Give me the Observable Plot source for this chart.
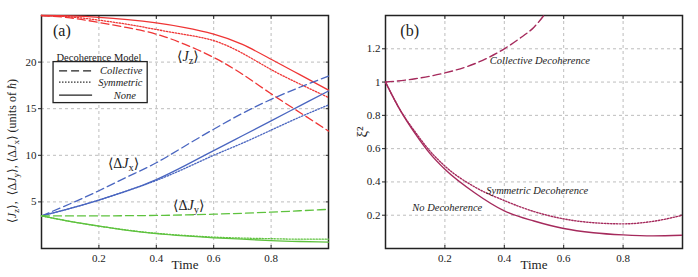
<!DOCTYPE html>
<html>
<head>
<meta charset="utf-8">
<script src="https://cdn.jsdelivr.net/npm/d3@7"></script>
<script src="https://cdn.jsdelivr.net/npm/@observablehq/plot@0.6"></script>
<style>
  html, body { margin: 0; padding: 0; background: #fff; }
  #wrap { display: flex; width: 698px; height: 277px; }
  svg, svg text { font-family: "Liberation Serif", "DejaVu Serif", serif !important; }
</style>
</head>
<body>
<div id="wrap"></div>
<script>
// ---------- Panel (a) data ----------
const timeA = [0, 0.1, 0.2, 0.3, 0.4, 0.5, 0.6, 0.7, 0.8, 0.9, 1.0];
const jzNone = [25, 24.95, 24.8, 24.55, 24.2, 23.7, 23.0, 21.9, 20.3, 18.65, 17.0];
const jzSym  = [25, 24.85, 24.5, 24.05, 23.5, 22.95, 22.3, 20.95, 19.2, 17.65, 16.2];
const jzColl = [25, 24.75, 24.25, 23.7, 23.0, 21.9, 20.5, 18.7, 16.6, 14.6, 12.6];
const dJxNone = [3.5, 4.3, 5.2, 6.2, 7.4, 8.9, 10.5, 12.1, 13.7, 15.3, 16.9];
const dJxSym  = [3.5, 4.3, 5.2, 6.2, 7.3, 8.6, 10.0, 11.3, 12.7, 14.1, 15.4];
const dJxColl = [3.5, 4.8, 6.2, 7.7, 9.2, 11.0, 12.8, 14.5, 16.0, 17.3, 18.5];
const dJyNone = [3.5, 2.9, 2.4, 1.95, 1.6, 1.35, 1.15, 1.0, 0.85, 0.75, 0.68];
const dJySym  = [3.5, 2.9, 2.4, 1.97, 1.63, 1.4, 1.22, 1.12, 1.05, 1.0, 1.0];
const dJyColl = [3.5, 3.5, 3.5, 3.52, 3.55, 3.6, 3.68, 3.78, 3.9, 4.05, 4.2];
const ticksXA = [0.2, 0.4, 0.6, 0.8];
const ticksYA = [5, 10, 15, 20];

// ---------- Panel (b) data ----------
const timeB = [0, 0.05, 0.1, 0.15, 0.2, 0.3, 0.4, 0.5, 0.6, 0.7, 0.8, 0.9, 1.0];
const xiNone = [1, 0.83, 0.69, 0.57, 0.476, 0.335, 0.226, 0.165, 0.12, 0.095, 0.082, 0.076, 0.08];
const xiSym  = [1, 0.83, 0.70, 0.585, 0.495, 0.37, 0.288, 0.222, 0.178, 0.155, 0.148, 0.163, 0.2];
const timeColl = [0, 0.1, 0.2, 0.3, 0.4, 0.45, 0.5, 0.55];
const xiColl = [1, 1.02, 1.055, 1.11, 1.2, 1.26, 1.33, 1.44];
const ticksXB = [0.2, 0.4, 0.6, 0.8];
const ticksYB = [0.2, 0.4, 0.6, 0.8, 1, 1.2];

// ---------- labels ----------
const legendTitle = "Decoherence Model";
const legendNames = ["Collective", "Symmetric", "None"];
const models = ["Collective", "Symmetric", "None"];

const RED = "#ef3535", BLUE = "#4a66c0", GREEN = "#5ec23e", MAROON = "#a52a5c";
const SERIF = "Liberation Serif";
const dashOf = {Collective: "8,4", Symmetric: "1.4,1.6", None: null};

function series(times, values, quantity, model) {
  return times.map((t, i) => ({t, v: values[i], quantity, model}));
}
const dataA = [
  ...series(timeA, jzColl, "Jz", "Collective"),
  ...series(timeA, jzSym, "Jz", "Symmetric"),
  ...series(timeA, jzNone, "Jz", "None"),
  ...series(timeA, dJxColl, "dJx", "Collective"),
  ...series(timeA, dJxSym, "dJx", "Symmetric"),
  ...series(timeA, dJxNone, "dJx", "None"),
  ...series(timeA, dJyColl, "dJy", "Collective"),
  ...series(timeA, dJySym, "dJy", "Symmetric"),
  ...series(timeA, dJyNone, "dJy", "None")
];
const colorOf = {Jz: RED, dJx: BLUE, dJy: GREEN};

const common = {
  width: 349, height: 277, marginTop: 15, marginBottom: 29,
  style: {fontFamily: SERIF, fontSize: "11px", color: "#222", background: "#fff"}
};

function lineMarks(data) {
  const marks = [];
  for (const q of Object.keys(colorOf)) {
    for (const m of models) {
      const d = data.filter(r => r.quantity === q && r.model === m);
      if (!d.length) continue;
      marks.push(Plot.line(d, {x: "t", y: "v", stroke: colorOf[q], strokeWidth: 1.3,
        strokeDasharray: dashOf[m], curve: "natural"}));
    }
  }
  return marks;
}

function axes(tx, ty, fmt) {
  return [
    Plot.gridX(tx, {stroke: "#bdbdbd", strokeOpacity: 1, strokeDasharray: "3,3"}),
    Plot.gridY(ty, {stroke: "#bdbdbd", strokeOpacity: 1, strokeDasharray: "3,3"}),
    Plot.axisX(tx, {tickSize: -3, tickPadding: 9, label: null, fontSize: 11, fontFamily: SERIF}),
    Plot.axisX(tx, {anchor: "top", tickSize: -3, tickFormat: () => "", label: null}),
    Plot.axisY(ty, {tickSize: 3, tickPadding: 2, tickFormat: fmt, label: null, fontSize: 11, fontFamily: SERIF}),
    Plot.axisY(ty, {anchor: "right", tickSize: -3, tickFormat: () => "", label: null}),
    Plot.frame({stroke: "#222", strokeWidth: 1.5}),
    Plot.text(["Time"], {frameAnchor: "bottom", dy: 20, fontSize: 13, fill: "#222", fontFamily: SERIF})
  ];
}

// ---------- legend (panel a) ----------
const legendRows = legendNames.map((name, i) => ({name, model: models[i], row: i}));
const legY = [19.05, 17.85, 16.45];

const plotA = Plot.plot({
  ...common,
  marginLeft: 41, marginRight: 21,
  x: {domain: [0, 1]},
  y: {domain: [0, 25]},
  marks: [
    ...axes(ticksXA, ticksYA, d => String(d)),
    ...lineMarks(dataA),
    // legend
    Plot.rect([0], {x1: 0.042, x2: 0.37, y1: 15.6, y2: 20.0, fill: "white", stroke: "#222", strokeWidth: 1.3}),
    Plot.text([legendTitle], {x: 0.2, y: 20.0, dy: -4, fontSize: 10.5, fill: "#222", fontFamily: SERIF}),
    ...legendRows.map(r => Plot.ruleY([legY[r.row]], {x1: 0.063, x2: 0.178, stroke: "#222", strokeWidth: 1.3, strokeDasharray: dashOf[r.model]})),
    Plot.text(legendRows.slice(0, 2), {x: 0.352, y: r => legY[r.row], text: "name", textAnchor: "end", fontStyle: "italic", fontSize: 10.5, fill: "#222", fontFamily: SERIF}),
    Plot.text(legendRows.slice(2), {x: 0.29, y: r => legY[r.row], text: "name", fontStyle: "italic", fontSize: 10.5, fill: "#222", fontFamily: SERIF}),
    // annotations
    Plot.text(["(a)"], {x: 0.04, y: 23.4, textAnchor: "start", fontSize: 16, fill: "#222", fontFamily: SERIF}),
    Plot.text(["⟨J_z⟩"], {x: 0.51, y: 20.65, fontSize: 14, fill: "#222", fontFamily: SERIF}),
    Plot.text(["⟨ΔJ_x⟩"], {x: 0.286, y: 9.07, fontSize: 14, fill: "#222", fontFamily: SERIF}),
    Plot.text(["⟨ΔJ_y⟩"], {x: 0.513, y: 4.57, fontSize: 14, fill: "#222", fontFamily: SERIF}),
    Plot.text(["⟨J_z⟩,  ⟨ΔJ_y⟩, ⟨ΔJ_x⟩ (units of ħ)"], {frameAnchor: "left", textAnchor: "middle", dx: -29, dy: 19, rotate: -90, fontSize: 12, fill: "#222", fontFamily: SERIF})
  ]
});

// ---------- panel b ----------
const dataB = [
  ...series(timeColl, xiColl, "xi", "Collective"),
  ...series(timeB, xiSym, "xi", "Symmetric"),
  ...series(timeB, xiNone, "xi", "None")
];
const plotB = Plot.plot({
  ...common,
  marginLeft: 36, marginRight: 16,
  x: {domain: [0, 1]},
  y: {domain: [0, 1.4]},
  marks: [
    ...axes(ticksXB, ticksYB, d => d3.format("~g")(d)),
    ...models.map(m => Plot.line(dataB.filter(r => r.model === m), {x: "t", y: "v", stroke: MAROON, strokeWidth: 1.4,
      strokeDasharray: dashOf[m], curve: "monotone-x", clip: true})),
    Plot.text(["(b)"], {x: 0.05, y: 1.31, textAnchor: "start", fontSize: 16, fill: "#222", fontFamily: SERIF}),
    Plot.text(["Collective Decoherence"], {x: 0.52, y: 1.126, fontStyle: "italic", fontSize: 10.5, fill: "#222", fontFamily: SERIF}),
    Plot.text(["Symmetric Decoherence"], {x: 0.511, y: 0.346, fontStyle: "italic", fontSize: 10.5, fill: "#222", fontFamily: SERIF}),
    Plot.text(["No Decoherence"], {x: 0.208, y: 0.244, fontStyle: "italic", fontSize: 10.5, fill: "#222", fontFamily: SERIF}),
    Plot.text(["ξ²"], {frameAnchor: "left", textAnchor: "middle", dx: -23, rotate: -90, fontSize: 15, fill: "#222", fontFamily: SERIF})
  ]
});

// rich text: italic J and ħ, subscripts after "_"
function rich(svg) {
  d3.select(svg).selectAll("text").each(function() {
    if (this.querySelector("tspan")) return;
    const s = this.textContent;
    if (!/[_ħ]/.test(s)) return;
    const el = d3.select(this);
    el.text(null);
    s.split(/(J|ħ|_[a-z])/).forEach(part => {
      if (!part) return;
      if (part === "J" || part === "ħ") el.append("tspan").attr("font-style", "italic").text(part);
      else if (part[0] === "_" && part.length === 2) el.append("tspan").attr("baseline-shift", "-3px").attr("font-size", "75%").text(part[1]);
      else el.append("tspan").text(part);
    });
  });
}
rich(plotA);
for (const p of [plotA, plotB]) {
  d3.select(p).attr("font-family", SERIF).selectAll("text").attr("font-family", SERIF);
}

const wrap = document.getElementById("wrap");
wrap.appendChild(plotA);
wrap.appendChild(plotB);
</script>
</body>
</html>
